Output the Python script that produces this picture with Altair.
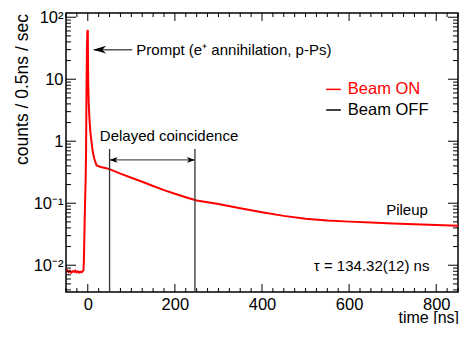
import altair as alt
import pandas as pd

# ---------------- data ----------------
time_ns = [-50, -47, -44, -41, -38, -35, -32, -29, -26, -23, -20, -17, -14, -12,
           -10, -9, -8, -7, -6, -5, -4, -3, -2, -1, 0, 1, 2, 3, 4, 6, 8, 10, 12, 15,
           20, 25, 30, 40, 50, 75, 100, 125, 150, 175, 200, 225, 250, 300, 350,
           400, 450, 500, 550, 600, 650, 700, 750, 800, 850]
beam_on = [0.0079, 0.0083, 0.0077, 0.0081, 0.0076, 0.0080, 0.0078, 0.0082, 0.0077, 0.0080,
           0.0076, 0.0079, 0.0077, 0.0080,
           0.0082, 0.011, 0.025, 0.06, 0.12, 0.22, 0.6, 6, 30, 58, 62, 9, 4.5, 3, 2.2, 1.4,
           1.05, 0.8, 0.65, 0.52,
           0.41, 0.395, 0.385, 0.37, 0.355, 0.30, 0.258, 0.222, 0.19, 0.163, 0.142, 0.125,
           0.111, 0.097, 0.083, 0.0715, 0.0625, 0.056, 0.0525, 0.0505, 0.0487, 0.0472,
           0.0458, 0.0445, 0.0433]

x_major = [0, 200, 400, 600, 800]
x_minor = [v for v in range(-50, 851, 25) if v not in x_major]
y_major = [0.01, 0.1, 1, 10, 100]
y_major_labels = ["10⁻²", "10⁻¹", "1", "10", "10²"]
y_minor = [m * 10.0 ** e for e in range(-3, 3) for m in range(2, 10)
           if 0.0037 <= m * 10.0 ** e <= 117]

legend_names = ["Beam ON", "Beam OFF"]
legend_colors = ["#ff0000", "#000000"]
legend_y = [6.86, 3.19]

delayed_start, delayed_end = 50, 246

# ---------------- layout ----------------
W, H = 392, 279
FONT = "Liberation Sans"
xs = alt.Scale(domain=[-50, 850], nice=False, zero=False)
ys = alt.Scale(type="log", domain=[0.0037, 117], nice=False)

label_expr = " : ".join(
    f"datum.value == {v} ? '{l}'" for v, l in zip(y_major, y_major_labels)
) + " : ''"

x_axis = alt.Axis(
    values=x_major, ticks=False, domain=False, grid=False,
    labelFont=FONT, labelFontSize=16.5, labelColor="black", labelPadding=4,
    title="time [ns]", titleFont=FONT, titleFontSize=16, titleFontWeight="normal",
    titleColor="black", titleX=W + 0.5, titleY=30, titleAlign="right",
    titleBaseline="alphabetic")
y_axis = alt.Axis(
    values=y_major, labelExpr=label_expr, ticks=False, domain=False, grid=False,
    labelFont=FONT, labelFontSize=16.5, labelColor="black", labelPadding=3,
    title="counts / 0.5ns / sec", titleFont=FONT, titleFontSize=17.5,
    titleFontWeight="normal", titleColor="black", titleAngle=270,
    titleX=-44, titleY=76, titleAlign="center", titleBaseline="middle")


def X(field):
    return alt.X(field, scale=xs, axis=x_axis)


def Y(field):
    return alt.Y(field, scale=ys, axis=y_axis)


curve_df = pd.DataFrame({"t": time_ns, "c": beam_on})
curve = alt.Chart(curve_df).mark_line(color="#ff0000", strokeWidth=2, clip=True).encode(
    x=X("t:Q"), y=Y("c:Q"))

layers = []
# tick marks (inward) on all four sides
for vals, length in [(x_major, 8), (x_minor, 4)]:
    d = pd.DataFrame({"t": vals})
    layers.append(alt.Chart(d).mark_rule(color="black", strokeWidth=1).encode(
        x=X("t:Q"), y=alt.value(H), y2=alt.value(H - length)))
    layers.append(alt.Chart(d).mark_rule(color="black", strokeWidth=1).encode(
        x=X("t:Q"), y=alt.value(0), y2=alt.value(length)))
for vals, length in [(y_major, 10), (y_minor, 5)]:
    d = pd.DataFrame({"c": vals})
    layers.append(alt.Chart(d).mark_rule(color="black", strokeWidth=1).encode(
        y=Y("c:Q"), x=alt.value(0), x2=alt.value(length)))
    layers.append(alt.Chart(d).mark_rule(color="black", strokeWidth=1).encode(
        y=Y("c:Q"), x=alt.value(W), x2=alt.value(W - length)))

# delayed coincidence vertical lines
vlines = pd.DataFrame({"t": [delayed_start, delayed_end], "c": [0.75, 0.75], "c2": [0.0037, 0.0037]})
layers.append(alt.Chart(vlines).mark_rule(color="#333333", strokeWidth=1.3).encode(
    x=X("t:Q"), y=Y("c:Q"), y2="c2:Q"))
# double arrow line
hline = pd.DataFrame({"t": [delayed_start], "t2": [delayed_end], "c": [0.5]})
layers.append(alt.Chart(hline).mark_rule(color="#555555", strokeWidth=1.3).encode(
    x=X("t:Q"), x2="t2:Q", y=Y("c:Q")))
LEFT_HEAD = "M0,0 L2,-0.7 L1.5,0 L2,0.7 Z"
RIGHT_HEAD = "M0,0 L-2,-0.7 L-1.5,0 L-2,0.7 Z"
for t, shape in [(delayed_start, LEFT_HEAD), (delayed_end, RIGHT_HEAD)]:
    layers.append(alt.Chart(pd.DataFrame({"t": [t], "c": [0.5]})).mark_point(
        shape=shape, size=64, filled=True, color="black", opacity=1).encode(
        x=X("t:Q"), y=Y("c:Q")))

# prompt arrow
parrow = pd.DataFrame({"t": [14], "t2": [102], "c": [30]})
layers.append(alt.Chart(parrow).mark_rule(color="#555555", strokeWidth=1.5).encode(
    x=X("t:Q"), x2="t2:Q", y=Y("c:Q")))
layers.append(alt.Chart(pd.DataFrame({"t": [12.4], "c": [30]})).mark_point(
    shape="M0,0 L2,-0.6 L1.4,0 L2,0.6 Z", size=169, filled=True, color="black", opacity=1).encode(
    x=X("t:Q"), y=Y("c:Q")))

# annotation texts
texts = pd.DataFrame({
    "t": [111.5, 27.6, 685, 519],
    "c": [30, 1.21, 0.079, 0.0096],
    "label": ["Prompt (e⁺ annihilation, p-Ps)", "Delayed coincidence", "Pileup", "τ = 134.32(12) ns"],
})
layers.append(alt.Chart(texts).mark_text(
    align="left", baseline="middle", font=FONT, fontSize=15, color="black").encode(
    x=X("t:Q"), y=Y("c:Q"), text="label:N"))

# legend
leg = pd.DataFrame({"name": legend_names, "col": legend_colors, "c": legend_y,
                    "t": [547.5] * 2, "t2": [581] * 2, "tt": [597] * 2})
layers.append(alt.Chart(leg).mark_rule(strokeWidth=1.5).encode(
    x=X("t:Q"), x2="t2:Q", y=Y("c:Q"),
    color=alt.Color("col:N", scale=None)))
layers.append(alt.Chart(leg).mark_text(
    align="left", baseline="middle", font=FONT, fontSize=16.5).encode(
    x=X("tt:Q"), y=Y("c:Q"),
    text="name:N", color=alt.Color("col:N", scale=None)))

chart = alt.layer(curve, *layers).properties(
    width=W, height=H,
    padding={"left": 58, "top": 5, "right": 1, "bottom": 32},
    autosize=alt.AutoSizeParams(type="none"),
    background="white",
).configure_view(stroke="black", strokeWidth=1.5)

chart.save("out.html", embed_options={"renderer": "svg", "actions": False})
